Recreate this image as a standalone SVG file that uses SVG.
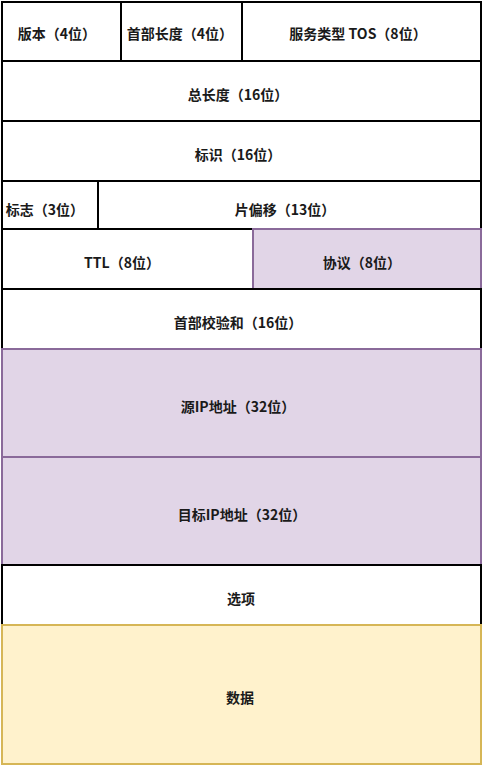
<svg xmlns="http://www.w3.org/2000/svg" width="483" height="766" viewBox="0 0 483 766">
<style>
.w{fill:#ffffff;stroke:#000000;stroke-width:2}
.p{fill:#e1d5e7;stroke:#8a6a9a;stroke-width:2}
.y{fill:#fff2cc;stroke:#d6b656;stroke-width:2}
text{font-family:"Noto Sans CJK SC","Liberation Sans",sans-serif;font-size:14px;font-weight:bold;fill:#1a1a1a;text-anchor:middle;dominant-baseline:central}
</style>
<rect width="483" height="766" fill="#ffffff"/>
<g id="n-version"><rect class="w" x="2" y="2" width="119" height="59"/><text x="57" y="33">版本（4位）</text></g>
<g id="n-ihl"><rect class="w" x="121" y="2" width="121" height="59"/><text x="180" y="33">首部长度（4位）</text></g>
<g id="n-tos"><rect class="w" x="242" y="2" width="239" height="59"/><text x="358" y="33">服务类型 TOS（8位）</text></g>
<g id="n-total"><rect class="w" x="2" y="61" width="479" height="60"/><text x="238" y="94">总长度（16位）</text></g>
<g id="n-id"><rect class="w" x="2" y="121" width="479" height="60"/><text x="238" y="154">标识（16位）</text></g>
<g id="n-flags"><rect class="w" x="2" y="181" width="96" height="48"/><text x="45" y="209">标志（3位）</text></g>
<g id="n-frag"><rect class="w" x="98" y="181" width="383" height="48"/><text x="285" y="209">片偏移（13位）</text></g>
<g id="n-ttl"><rect class="w" x="2" y="229" width="251" height="60"/><text x="122" y="262">TTL（8位）</text></g>
<g id="n-proto"><rect class="p" x="253" y="229" width="228" height="60"/><text x="362" y="262">协议（8位）</text></g>
<g id="n-checksum"><rect class="w" x="2" y="289" width="479" height="60"/><text x="238" y="322">首部校验和（16位）</text></g>
<g id="n-src"><rect class="p" x="2" y="349" width="479" height="108"/><text x="238" y="406">源IP地址（32位）</text></g>
<g id="n-dst"><rect class="p" x="2" y="457" width="479" height="108"/><text x="242" y="514">目标IP地址（32位）</text></g>
<g id="n-options"><rect class="w" x="2" y="565" width="479" height="60"/><text x="241" y="598">选项</text></g>
<g id="n-data"><rect class="y" x="2" y="625" width="479" height="139"/><text x="240" y="697">数据</text></g>
<g id="connectors"></g>
</svg>
